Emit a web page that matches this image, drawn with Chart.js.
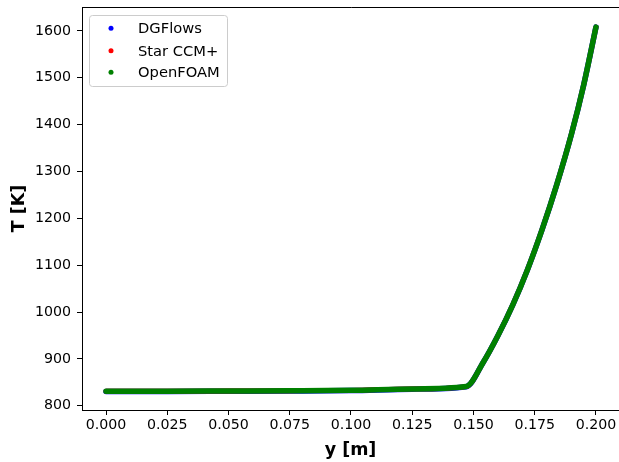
<!DOCTYPE html>
<html>
<head>
<meta charset="utf-8">
<script src="https://cdn.jsdelivr.net/npm/chart.js@4/dist/chart.umd.min.js"></script>
<style>
  html, body { margin: 0; padding: 0; background: #fff; }
  #wrap { width: 619px; height: 462px; }
</style>
</head>
<body>
<div id="wrap"><canvas id="c" width="619" height="462"></canvas></div>
<script>
// ---- data ----
const yPos = [0, 0.025, 0.05, 0.075, 0.1, 0.125, 0.147, 0.154, 0.16, 0.166, 0.172, 0.178, 0.184, 0.19, 0.195, 0.2];
const tDGFlows  = [830.6, 830.6, 831, 831.5, 832.5, 835.5, 840.6, 893, 950, 1015, 1090, 1176, 1272, 1380, 1485, 1608];
const tStarCCM  = [831, 831, 831.5, 832, 833, 836, 841, 893, 950, 1015, 1090, 1176, 1272, 1380, 1485, 1608];
const tOpenFOAM = [831, 831, 831.5, 832, 833, 836, 841, 893, 950, 1015, 1090, 1176, 1272, 1380, 1485, 1608];
const seriesNames = ['DGFlows', 'Star CCM+', 'OpenFOAM'];
const xTicks = [0, 0.025, 0.05, 0.075, 0.1, 0.125, 0.15, 0.175, 0.2];
const yTicks = [800, 900, 1000, 1100, 1200, 1300, 1400, 1500, 1600];
const xTitle = 'y [m]';
const yTitle = 'T [K]';

const FONT = 'DejaVu Sans';
const colors = ['#0000ff', '#ff0000', '#008000'];
const widths = [5.5, 4.8, 5.5];

function pts(ys) { return yPos.map((x, i) => ({x: x, y: ys[i]})); }

const legendPlugin = {
  id: 'mplLegend',
  afterDraw(chart) {
    const ctx = chart.ctx;
    const x0 = 89.5, y0 = 15.5, w = 138, h = 71, r = 3;
    ctx.save();
    ctx.beginPath();
    ctx.moveTo(x0 + r, y0);
    ctx.arcTo(x0 + w, y0, x0 + w, y0 + h, r);
    ctx.arcTo(x0 + w, y0 + h, x0, y0 + h, r);
    ctx.arcTo(x0, y0 + h, x0, y0, r);
    ctx.arcTo(x0, y0, x0 + w, y0, r);
    ctx.closePath();
    ctx.fillStyle = 'rgba(255,255,255,0.8)';
    ctx.fill();
    ctx.strokeStyle = '#cccccc';
    ctx.lineWidth = 1;
    ctx.stroke();
    const rows = [28.3, 50.7, 72.3];
    chart.data.datasets.forEach((ds, i) => {
      ctx.beginPath();
      ctx.arc(111, rows[i], 2.5, 0, Math.PI * 2);
      ctx.fillStyle = ds.borderColor;
      ctx.fill();
      ctx.fillStyle = '#000';
      ctx.font = '14.7px "' + FONT + '"';
      ctx.textBaseline = 'middle';
      ctx.textAlign = 'left';
      ctx.fillText(ds.label, 138, rows[i] + 1);
    });
    ctx.restore();
  }
};

const framePlugin = {
  id: 'frame',
  afterDraw(chart) {
    const a = chart.chartArea, ctx = chart.ctx;
    ctx.save();
    ctx.strokeStyle = '#000';
    ctx.lineWidth = 1;
    ctx.beginPath();
    ctx.moveTo(Math.round(a.left) + 0.5, Math.round(a.top) + 0.5);
    ctx.lineTo(a.right + 5, Math.round(a.top) + 0.5);
    ctx.stroke();
    ctx.restore();
  }
};

new Chart(document.getElementById('c'), {
  type: 'line',
  data: {
    datasets: [tDGFlows, tStarCCM, tOpenFOAM].map((arr, i) => ({
      label: seriesNames[i],
      data: pts(arr),
      borderColor: colors[i],
      backgroundColor: colors[i],
      borderWidth: widths[i],
      borderCapStyle: 'round',
      borderJoinStyle: 'round',
      pointRadius: 0,
      fill: false,
      cubicInterpolationMode: 'monotone',
      order: 3 - i
    }))
  },
  options: {
    responsive: false,
    animation: false,
    devicePixelRatio: 1,
    layout: { padding: { left: 0, right: 0, top: 7, bottom: 0 } },
    plugins: { legend: { display: false }, tooltip: { enabled: false } },
    scales: {
      x: {
        type: 'linear',
        min: -0.0098,
        max: 0.2094,
        afterFit: s => { s.height = 52; s.paddingLeft = 0; s.paddingRight = 0; },
        afterBuildTicks: s => { s.ticks = xTicks.map(v => ({value: v})); },
        grid: { drawOnChartArea: false, drawTicks: true, tickLength: 5, tickColor: '#000', tickWidth: 1 },
        border: { display: true, color: '#000', width: 1 },
        ticks: {
          color: '#000', padding: 2, maxRotation: 0, autoSkip: false,
          font: { family: FONT, size: 14.2 },
          callback: v => v.toFixed(3)
        },
        title: { display: true, text: xTitle, color: '#000', padding: { top: 0, bottom: 1 },
          font: { family: FONT, size: 17.5, weight: 'bold' } }
      },
      y: {
        type: 'linear',
        min: 791,
        max: 1651,
        afterFit: s => { s.width = 82; s.paddingTop = 0; s.paddingBottom = 0; },
        afterBuildTicks: s => { s.ticks = yTicks.map(v => ({value: v})); },
        grid: { drawOnChartArea: false, drawTicks: true, tickLength: 5, tickColor: '#000', tickWidth: 1 },
        border: { display: true, color: '#000', width: 1 },
        ticks: {
          color: '#000', padding: 6, autoSkip: false,
          font: { family: FONT, size: 14.2 },
          callback: v => String(v)
        },
        title: { display: true, text: yTitle, color: '#000', padding: { top: 9, bottom: 0 },
          font: { family: FONT, size: 17.5, weight: 'bold' } }
      }
    }
  },
  plugins: [legendPlugin, framePlugin]
});
</script>
</body>
</html>
